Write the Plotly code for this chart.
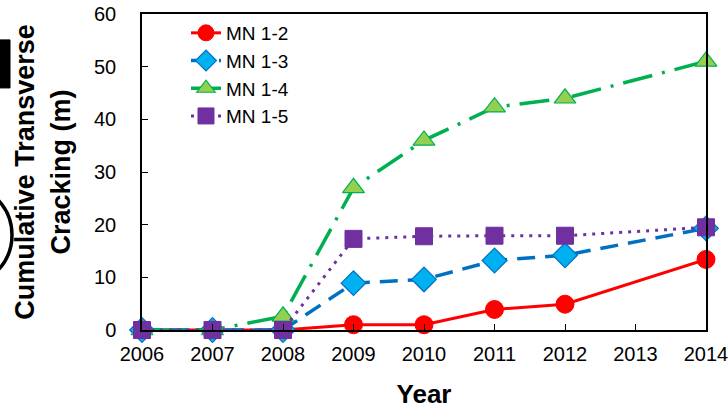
import plotly.graph_objects as go

years = [2006, 2007, 2008, 2009, 2010, 2011, 2012, 2014]
mn12 = [0, 0, 0, 1.0, 1.0, 3.9, 4.9, 13.4]
mn13 = [0, 0, 0, 8.9, 9.6, 13.2, 14.2, 19.3]
mn14 = [0, 0, 2.6, 27.0, 36.0, 42.3, 44.0, 51.0]
mn15 = [0, 0, 0, 17.3, 17.8, 17.9, 17.9, 19.5]
x_ticks = [2006, 2007, 2008, 2009, 2010, 2011, 2012, 2013, 2014]
y_ticks = [0, 10, 20, 30, 40, 50, 60]

fig = go.Figure()
fig.add_trace(go.Scatter(x=years, y=mn12, name="MN 1-2", mode="lines+markers",
    line=dict(color="#FF0000", width=3, dash="solid"),
    marker=dict(symbol="circle", size=18, color="#FF0000", line=dict(color="#FF0000", width=1))))
fig.add_trace(go.Scatter(x=years, y=mn13, name="MN 1-3", mode="lines+markers",
    line=dict(color="#0070C0", width=3.5, dash="18px,10px"),
    marker=dict(symbol="diamond", size=19, color="#00B0F0", line=dict(color="#0070C0", width=1.2))))
fig.add_trace(go.Scatter(x=years, y=mn14, name="MN 1-4", mode="lines+markers",
    line=dict(color="#00B050", width=3.5, dash="30px,10px,3px,10px"),
    marker=dict(symbol="triangle-up", size=19, color="#92D050", line=dict(color="#00B050", width=1.2))))
fig.add_trace(go.Scatter(x=years, y=mn15, name="MN 1-5", mode="lines+markers",
    line=dict(color="#7030A0", width=3, dash="3px,6px"),
    marker=dict(symbol="square", size=17, color="#7030A0", line=dict(color="#7030A0", width=1))))

fig.update_layout(
    width=728, height=409,
    margin=dict(l=142, r=22, t=14, b=79, autoexpand=False),
    paper_bgcolor="white", plot_bgcolor="white",
    font=dict(family="Arial, Liberation Sans, sans-serif", size=20, color="black"),
    showlegend=True,
    legend=dict(x=0.078, y=1.0, xanchor="left", yanchor="top", bgcolor="rgba(0,0,0,0)",
                font=dict(size=19), tracegroupgap=0, itemwidth=30),
    xaxis=dict(range=[2006, 2014], tickvals=x_ticks, ticktext=[str(v) for v in x_ticks],
               showgrid=False, zeroline=False, showline=True, linecolor="black", linewidth=1.5,
               mirror=True, ticks="inside", ticklen=6, tickcolor="black", automargin=False,
               ticklabelstandoff=5, ticklabeloverflow="allow", tickfont=dict(size=20),
               title=dict(text="<b>Year</b>", font=dict(size=26), standoff=27)),
    yaxis=dict(range=[0, 60], tickvals=y_ticks, showgrid=False, zeroline=False,
               showline=True, linecolor="black", linewidth=1.5, mirror=True, automargin=False,
               ticks="inside", ticklen=6, tickcolor="black", ticklabelstandoff=20,
               tickfont=dict(size=20),
               title=dict(text="<b>Cumulative Transverse<br>Cracking (m)</b>", font=dict(size=27), standoff=16)),
    shapes=[
        dict(type="rect", xref="paper", yref="paper", x0=-0.2606, x1=-0.234, y0=0.766, y1=0.918,
             fillcolor="black", line=dict(color="black", width=1), layer="below"),
        dict(type="circle", xref="paper", yref="paper", x0=-0.411, x1=-0.2305, y0=0.139, y1=0.462,
             line=dict(color="black", width=3.5), layer="below"),
    ],
)
fig.update_traces(cliponaxis=False)
fig.write_html("out.html")
